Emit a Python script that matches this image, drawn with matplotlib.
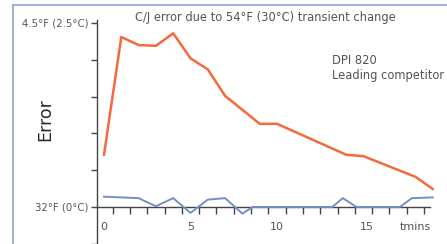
import matplotlib
matplotlib.use('Agg')
from matplotlib import pyplot as plt
from matplotlib.lines import Line2D

# time in minutes, error in degC
t_comp = [0, 1, 2, 3, 4, 5, 6, 7, 9, 10, 14, 15, 18, 19]
err_comp = [0.71, 2.31, 2.20, 2.19, 2.36, 2.02, 1.87, 1.51, 1.13, 1.13, 0.71, 0.69, 0.41, 0.245]

t_dpi = [0, 2, 3, 4, 5, 6, 7, 8, 8.6, 13.2, 13.8, 14.6, 17.1, 17.8, 19]
err_dpi = [0.14, 0.12, 0.01, 0.12, -0.08, 0.10, 0.12, -0.09, 0.0, 0.0, 0.12, 0.0, 0.0, 0.12, 0.13]

x_labels = ['0', '5', '10', '15']
x_label_pos = [0, 5, 10, 15.2]
y_ticks = [-0.5, 0, 0.5, 1, 1.5, 2, 2.5]
y_labels = ['', '32°F (0°C)', '', '', '', '', '4.5°F (2.5°C)']

orange = '#f4693d'
blue = '#7290c2'
axis_c = '#444444'
text_c = '#555555'

W, H = 447, 244
fig = plt.figure(figsize=(W / 100, H / 100), dpi=100)
# axes: left 97px, right 437px, top 18px, bottom 244px
ax = fig.add_axes([97 / W, 0, 340 / W, (244 - 18) / H])
ax.set_xlim((97 - 104) / 17.3, (437 - 104) / 17.3)
ax.set_ylim(-0.503, (207 - 18) / 73.6)

ax.plot(t_comp, err_comp, color=orange, lw=1.8, solid_joinstyle='round', zorder=3)
ax.plot(t_dpi, err_dpi, color=blue, lw=1.4, solid_joinstyle='round', zorder=3)

for s in ['top', 'right']:
    ax.spines[s].set_visible(False)
ax.spines['left'].set_position(('data', (97 - 104) / 17.3))
ax.spines['left'].set_bounds(-0.5, 2.54)
ax.spines['bottom'].set_position(('data', 0))
ax.spines['bottom'].set_bounds((97 - 104) / 17.3, (430 - 104) / 17.3)
for s in ['left', 'bottom']:
    ax.spines[s].set_color(axis_c)
    ax.spines[s].set_linewidth(1.0)

ax.set_yticks(y_ticks)
ax.set_yticklabels(y_labels)
ax.tick_params(axis='y', direction='out', length=4, width=1, color=axis_c,
               labelsize=7.3, labelcolor=text_c, pad=2)

ax.set_xticks(x_label_pos)
ax.set_xticklabels(x_labels)
ax.set_xticks([i + 0.5 for i in range(19)], minor=True)
ax.tick_params(axis='x', which='major', length=0, labelsize=8, labelcolor=text_c, pad=11)
ax.tick_params(axis='x', which='minor', direction='out', length=5, width=1, color=axis_c)

ax.text(18.0, -0.27, 'tmins', fontsize=8, color=text_c, ha='center', va='center')

fig.text(265 / W, 1 - 17 / H, 'C/J error due to 54°F (30°C) transient change',
         fontsize=8.3, color=text_c, ha='center', va='center')
fig.text(45 / W, 1 - 120 / H, 'Error', fontsize=12.5, color='#2a2a2a',
         rotation=90, ha='center', va='center')
fig.text(332 / W, 1 - 61 / H, 'DPI 820', fontsize=8.3, color=text_c, ha='left', va='center')
fig.text(332 / W, 1 - 75 / H, 'Leading competitor', fontsize=8.3, color=text_c,
         ha='left', va='center')

# outer frame
fx, fy = 13 / W, 1 - 5 / H
fig.add_artist(Line2D([fx, fx], [0, fy], color='#8aa6cf', lw=1.2))
fig.add_artist(Line2D([fx, 1], [fy, fy], color='#8aa6cf', lw=1.2))

fig.savefig('out.png', dpi=100)
